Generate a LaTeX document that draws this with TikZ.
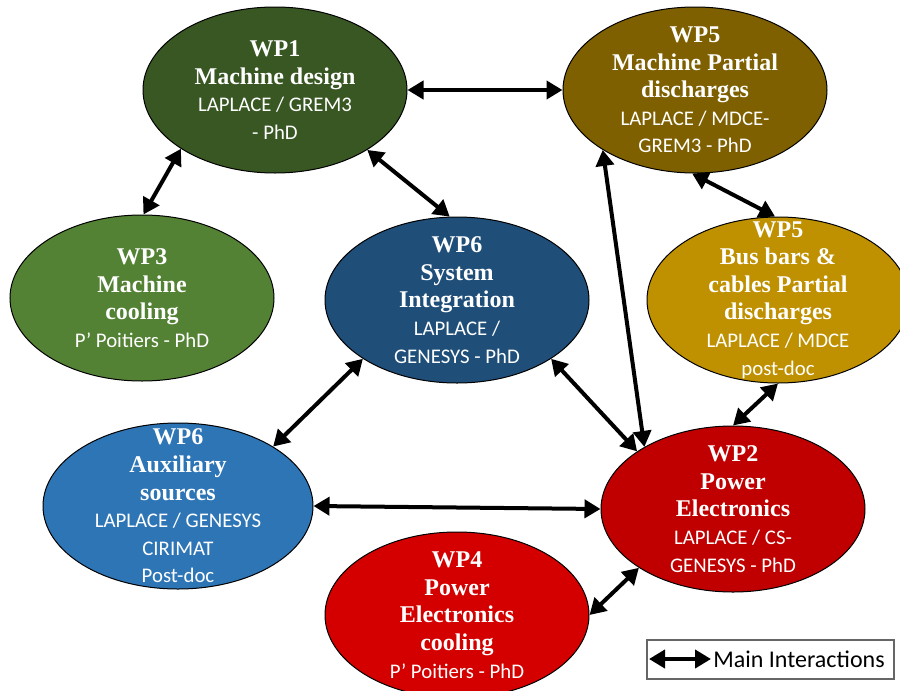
\documentclass[tikz,border=0pt]{standalone}
\usepackage{fontspec}
\setmainfont{Liberation Serif}
\newfontfamily\calibri{Carlito}
\usepackage{tikz}
\usetikzlibrary{shapes.geometric,arrows.meta}
\definecolor{wpgreenD}{RGB}{56,87,35}
\definecolor{wpgreenL}{RGB}{84,130,53}
\definecolor{wpblueD}{RGB}{31,78,121}
\definecolor{wpblueL}{RGB}{46,117,182}
\definecolor{wpgoldD}{RGB}{127,96,0}
\definecolor{wpgoldL}{RGB}{191,144,0}
\definecolor{wpredD}{RGB}{192,0,0}
\definecolor{wpredL}{RGB}{212,0,0}
\newcommand{\LAB}[1]{{\calibri\mdseries\fontsize{10.4}{13.8}\selectfont #1}}

\begin{document}
\begin{tikzpicture}[x=0.5pt, y=-0.5pt,
  wp/.style={ellipse, draw, line width=0.5pt, minimum width=132pt, minimum height=83pt, inner sep=0pt},
  wptxt/.style={align=center, text=white, inner sep=0pt, font=\fontsize{12}{13.8}\selectfont\bfseries},
  link/.style={{Triangle[length=8pt,width=9pt]}-{Triangle[length=8pt,width=9pt]}, line width=2pt}]

  \useasboundingbox (0,0) rectangle (900,691);

  % work packages
  \node[wp, fill=wpgreenD] (wp1) at (275,90) {};
  \node[wptxt] (wp1t) at (wp1) {WP1\\Machine design\\\LAB{LAPLACE / GREM3}\\\LAB{- PhD}};
  \node[wp, fill=wpgoldD] (wp5m) at (695,90) {};
  \node[wptxt] (wp5mt) at (wp5m) {WP5\\Machine Partial\\discharges\\\LAB{LAPLACE / MDCE-}\\\LAB{GREM3 - PhD}};
  \node[wp, fill=wpgreenL] (wp3) at (142,298) {};
  \node[wptxt] (wp3t) at (wp3) {WP3\\Machine\\cooling\\\LAB{P’ Poitiers - PhD}};
  \node[wp, fill=wpblueD] (wp6s) at (457,300) {};
  \node[wptxt] (wp6st) at (wp6s) {WP6\\System\\Integration\\\LAB{LAPLACE /}\\\LAB{GENESYS - PhD}};
  \node[wp, fill=wpgoldL, minimum width=131pt] (wp5b) at (778,300) {};
  \node[wptxt] (wp5bt) at (wp5b) {WP5\\Bus bars \&\\cables Partial\\discharges\\\LAB{LAPLACE / MDCE}\\\LAB{post-doc}};
  \node[wp, fill=wpblueL, minimum width=135pt] (wp6a) at (178,506) {};
  \node[wptxt] (wp6at) at (wp6a) {WP6\\Auxiliary\\sources\\\LAB{LAPLACE / GENESYS}\\\LAB{CIRIMAT}\\\LAB{Post-doc}};
  \node[wp, fill=wpredD] (wp2) at (733,509) {};
  \node[wptxt] (wp2t) at (wp2) {WP2\\Power\\Electronics\\\LAB{LAPLACE / CS-}\\\LAB{GENESYS - PhD}};
  \node[wp, fill=wpredL] (wp4) at (457,615) {};
  \node[wptxt] (wp4t) at (wp4) {WP4\\Power\\Electronics\\cooling\\\LAB{P’ Poitiers - PhD}};

  % interactions
  \draw[link] (wp1.east) -- (wp5m.west); % WP1<->WP5
  \draw[link] (wp1.212) -- (wp3.89); % WP1<->WP3
  \draw[link] (wp1.327) -- (wp6s.95); % WP1<->WP6
  \draw[link] (wp5m.268) -- (wp5b.92); % WP5<->WP5
  \draw[link] (wp5m.213) -- (wp2.145); % WP5<->WP2
  \draw[link] (wp6s.328) -- (wp2.149); % WP6<->WP2
  \draw[link] (wp5b.south) -- (wp2.north); % WP5<->WP2
  \draw[link] (wp6s.212) -- (wp6a.32); % WP6<->WP6
  \draw[link] (wp6a.east) -- (wp2.west); % WP6<->WP2
  \draw[link] (wp4.east) -- (wp2.212); % WP4<->WP2

  % legend
  \node[draw=black!60, line width=0.75pt, minimum width=123.5pt, minimum height=19.5pt, inner sep=0pt] (legend) at (770.5,659.5) {};
  \coordinate (lgA) at (649,659);
  \coordinate (lgB) at (711,659);
  \draw[link] (lgA) -- (lgB);
  \node[right, inner sep=1pt, font=\calibri\fontsize{12}{14}\selectfont] (lgtxt) at (lgB) {Main Interactions};

\end{tikzpicture}
\end{document}
